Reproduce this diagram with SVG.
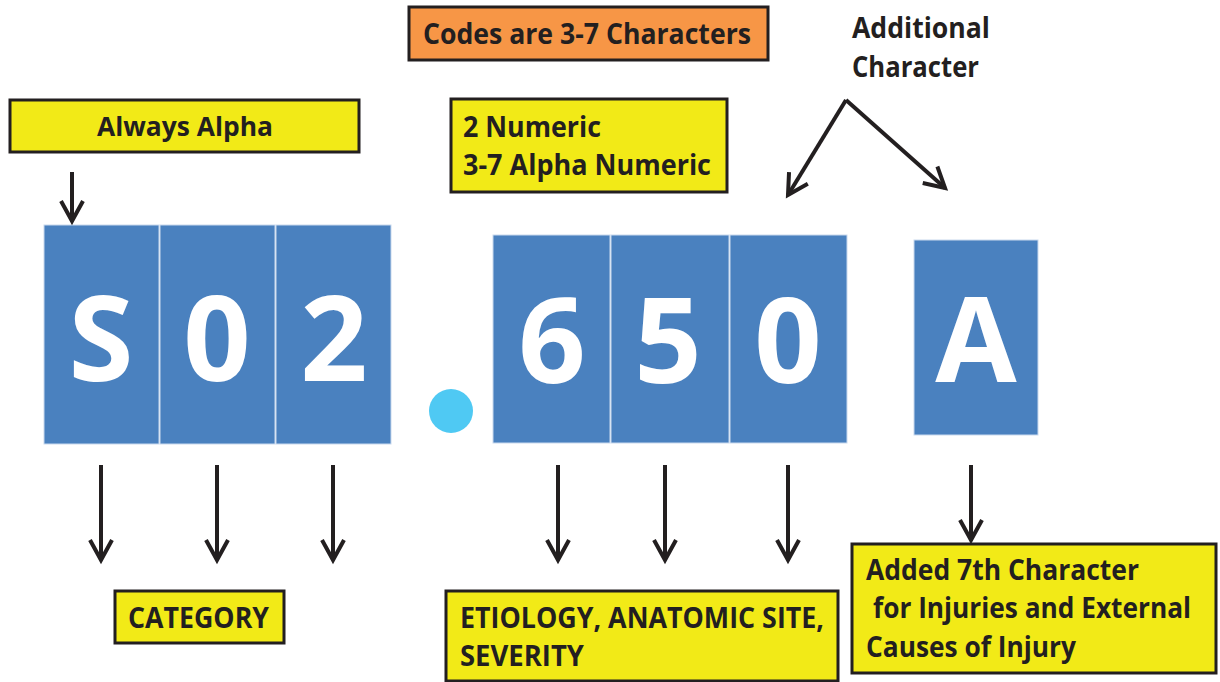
<svg xmlns="http://www.w3.org/2000/svg" width="1220" height="682" viewBox="0 0 1220 682">
<style>
.lbl{font-family:"Open Sans","Liberation Sans",sans-serif;font-weight:700;fill:#231f20;}
.big{font-family:"Open Sans","Liberation Sans",sans-serif;font-weight:700;fill:#ffffff;font-size:118px;text-anchor:middle;}
.yb{fill:#f2ea17;stroke:#231f20;stroke-width:3;}
.ob{fill:#f79646;stroke:#231f20;stroke-width:3;}
.blk{fill:#4a81bf;stroke:#c9d9ee;stroke-width:1;}
.arr{stroke:#231f20;stroke-width:4;fill:none;marker-end:url(#ah);}
</style>
<defs>
<marker id="ah" markerUnits="userSpaceOnUse" orient="auto" refX="0" refY="0" markerWidth="40" markerHeight="40" viewBox="-30 -20 40 40" overflow="visible">
<path d="M-20,-11 L0,0 L-20,11" fill="none" stroke="#231f20" stroke-width="4"/>
</marker>
</defs>
<rect width="1220" height="682" fill="#ffffff"/>

<g id="codes-note">
<rect class="ob" x="409" y="7" width="359" height="53"/>
<text class="lbl" x="423" y="44" font-size="29" textLength="328" lengthAdjust="spacingAndGlyphs">Codes are 3-7 Characters</text>
</g>

<g id="additional-label">
<text class="lbl" x="852" y="38" font-size="29" textLength="138" lengthAdjust="spacingAndGlyphs">Additional</text>
<text class="lbl" x="852" y="77" font-size="29" textLength="127" lengthAdjust="spacingAndGlyphs">Character</text>
</g>

<g id="always-alpha">
<rect class="yb" x="10" y="100" width="349" height="52"/>
<text class="lbl" x="97" y="136" font-size="27" textLength="176" lengthAdjust="spacingAndGlyphs">Always Alpha</text>
</g>

<g id="numeric-note">
<rect class="yb" x="451" y="99" width="276" height="93"/>
<text class="lbl" x="463" y="137" font-size="28" textLength="138" lengthAdjust="spacingAndGlyphs">2 Numeric</text>
<text class="lbl" x="463" y="175" font-size="28" textLength="248" lengthAdjust="spacingAndGlyphs">3-7 Alpha Numeric</text>
</g>

<g id="block-S">
<rect class="blk" x="44" y="225" width="115" height="219"/>
<text class="big" x="101" y="381">S</text>
</g>
<g id="block-0a">
<rect class="blk" x="160" y="225" width="115" height="219"/>
<text class="big" x="217" y="381">0</text>
</g>
<g id="block-2">
<rect class="blk" x="276" y="225" width="115" height="219"/>
<text class="big" x="334" y="381">2</text>
</g>

<g id="dot">
<circle cx="451" cy="411" r="22" fill="#4fc9f3"/>
</g>

<g id="block-6">
<rect class="blk" x="493" y="235" width="117" height="208"/>
<text class="big" x="552" y="383">6</text>
</g>
<g id="block-5">
<rect class="blk" x="611" y="235" width="118" height="208"/>
<text class="big" x="668" y="383">5</text>
</g>
<g id="block-0b">
<rect class="blk" x="730" y="235" width="117" height="208"/>
<text class="big" x="788" y="383">0</text>
</g>

<g id="block-A">
<rect class="blk" x="914" y="240" width="124" height="195"/>
<text class="big" x="976" y="382">A</text>
</g>

<g id="category">
<rect class="yb" x="115" y="591" width="169" height="52"/>
<text class="lbl" x="128" y="628" font-size="28" textLength="141" lengthAdjust="spacingAndGlyphs">CATEGORY</text>
</g>

<g id="etiology">
<rect class="yb" x="446" y="591" width="392" height="90"/>
<text class="lbl" x="460" y="628" font-size="28" textLength="364" lengthAdjust="spacingAndGlyphs">ETIOLOGY, ANATOMIC SITE,</text>
<text class="lbl" x="460" y="666" font-size="28" textLength="124" lengthAdjust="spacingAndGlyphs">SEVERITY</text>
</g>

<g id="seventh">
<rect class="yb" x="852" y="544" width="364" height="129"/>
<text class="lbl" x="866" y="580" font-size="28" textLength="273" lengthAdjust="spacingAndGlyphs">Added 7th Character</text>
<text class="lbl" x="873" y="618" font-size="28" textLength="318" lengthAdjust="spacingAndGlyphs">for Injuries and External</text>
<text class="lbl" x="866" y="657" font-size="28" textLength="210" lengthAdjust="spacingAndGlyphs">Causes of Injury</text>
</g>

<g id="connectors">
<line class="arr" x1="72" y1="172" x2="72" y2="221"/>
<line class="arr" x1="846" y1="100" x2="788" y2="195"/>
<line class="arr" x1="846" y1="100" x2="945" y2="188"/>
<line class="arr" x1="101" y1="465" x2="101" y2="560"/>
<line class="arr" x1="217" y1="465" x2="217" y2="560"/>
<line class="arr" x1="333" y1="465" x2="333" y2="560"/>
<line class="arr" x1="558" y1="465" x2="558" y2="560"/>
<line class="arr" x1="665" y1="465" x2="665" y2="560"/>
<line class="arr" x1="788" y1="465" x2="788" y2="560"/>
<line class="arr" x1="971" y1="465" x2="971" y2="540"/>
</g>
</svg>
